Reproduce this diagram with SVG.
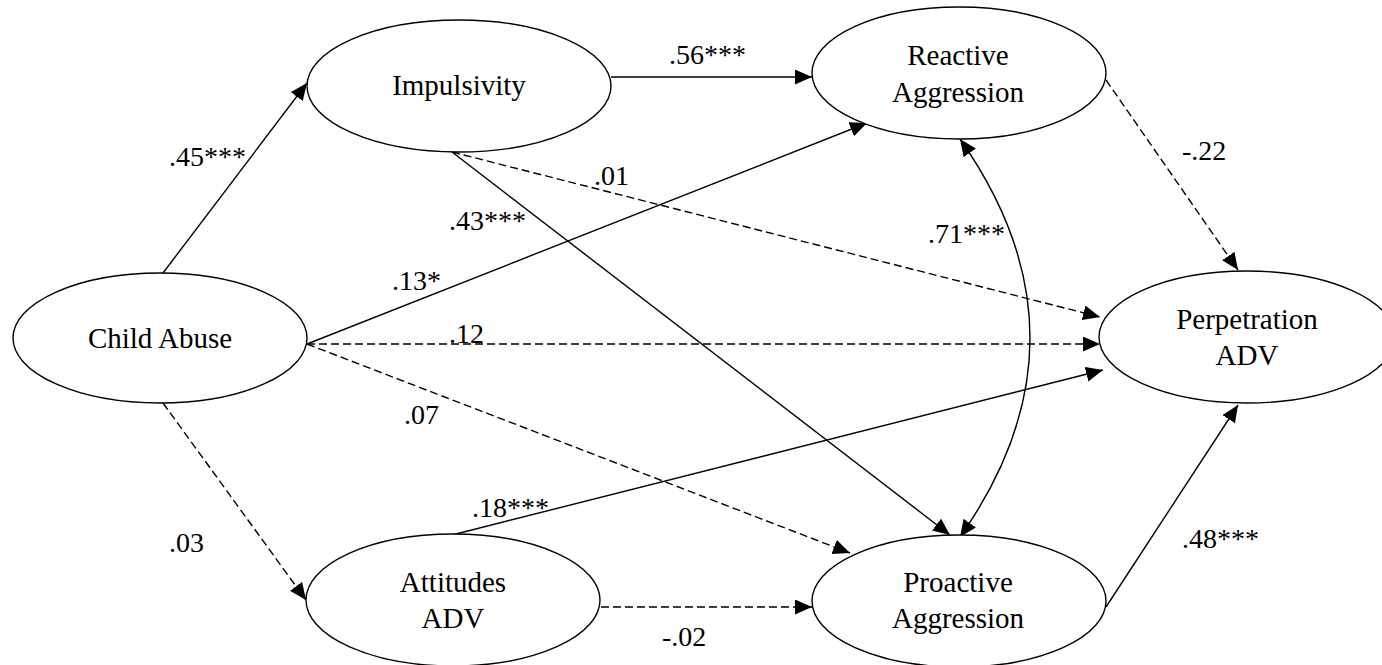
<svg xmlns="http://www.w3.org/2000/svg" width="1382" height="665" viewBox="0 0 1382 665">
<style>
.node ellipse{fill:#fff;stroke:#000;stroke-width:1.4}
.node text{font-size:29px;fill:#000;text-anchor:middle}
.edge{fill:none;stroke:#000;stroke-width:1.4;marker-end:url(#ah)}
.dash{stroke-dasharray:8 4}
.lbl{font-size:28px;fill:#000}
</style>
<defs>
<marker id="ah" markerUnits="userSpaceOnUse" markerWidth="18" markerHeight="16" refX="17" refY="7.5" orient="auto-start-reverse" viewBox="0 0 18 16">
<path d="M0,0 L17,7.5 L0,15 z" fill="#000"/>
</marker>
</defs>
<rect width="1382" height="665" fill="#fff"/>
<g id="connectors">
<path class="edge" d="M163,273 L307,83"/>
<path class="edge" d="M611,77 L812,77"/>
<path class="edge" d="M307,344 L867,123"/>
<path class="edge dash" d="M307,344 L1100,344"/>
<path class="edge dash" d="M307,344 L850,553"/>
<path class="edge dash" d="M163,403 L306,600"/>
<path class="edge" d="M452,152 L950,535"/>
<path class="edge dash" d="M452,152 L1100,317"/>
<path class="edge dash" d="M1106,80 L1238,270"/>
<path class="edge" style="marker-start:url(#ah)" d="M960,139 Q1100,338 960,537"/>
<path class="edge" d="M1106,607 L1238,405"/>
<path class="edge" d="M452,535 L1103,370"/>
<path class="edge dash" d="M601,607 L812,607"/>
</g>
<g id="labels" font-family="Liberation Serif, Times New Roman, DejaVu Serif, serif">
<text class="lbl" x="169" y="166">.45***</text>
<text class="lbl" x="669" y="64">.56***</text>
<text class="lbl" x="392" y="290">.13*</text>
<text class="lbl" x="449" y="343">.12</text>
<text class="lbl" x="404" y="424">.07</text>
<text class="lbl" x="169" y="552">.03</text>
<text class="lbl" x="449" y="230">.43***</text>
<text class="lbl" x="594" y="185">.01</text>
<text class="lbl" x="1182" y="160">-.22</text>
<text class="lbl" x="928" y="243">.71***</text>
<text class="lbl" x="1182" y="548">.48***</text>
<text class="lbl" x="472" y="517">.18***</text>
<text class="lbl" x="662" y="646">-.02</text>
</g>
<g id="child-abuse" class="node" font-family="Liberation Serif, Times New Roman, DejaVu Serif, serif"><ellipse cx="160" cy="338" rx="147" ry="65"/><text x="160" y="348">Child Abuse</text></g>
<g id="impulsivity" class="node" font-family="Liberation Serif, Times New Roman, DejaVu Serif, serif"><ellipse cx="459" cy="86" rx="152" ry="66"/><text x="459" y="95">Impulsivity</text></g>
<g id="reactive" class="node" font-family="Liberation Serif, Times New Roman, DejaVu Serif, serif"><ellipse cx="959" cy="73" rx="147" ry="66"/><text x="958" y="65">Reactive</text><text x="958" y="102">Aggression</text></g>
<g id="perpetration" class="node" font-family="Liberation Serif, Times New Roman, DejaVu Serif, serif"><ellipse cx="1247" cy="337" rx="148" ry="66"/><text x="1247" y="329">Perpetration</text><text x="1247" y="365">ADV</text></g>
<g id="attitudes" class="node" font-family="Liberation Serif, Times New Roman, DejaVu Serif, serif"><ellipse cx="453" cy="600" rx="147" ry="66"/><text x="453" y="592">Attitudes</text><text x="453" y="628">ADV</text></g>
<g id="proactive" class="node" font-family="Liberation Serif, Times New Roman, DejaVu Serif, serif"><ellipse cx="959" cy="601" rx="147" ry="66"/><text x="958" y="592">Proactive</text><text x="958" y="628">Aggression</text></g>
</svg>
